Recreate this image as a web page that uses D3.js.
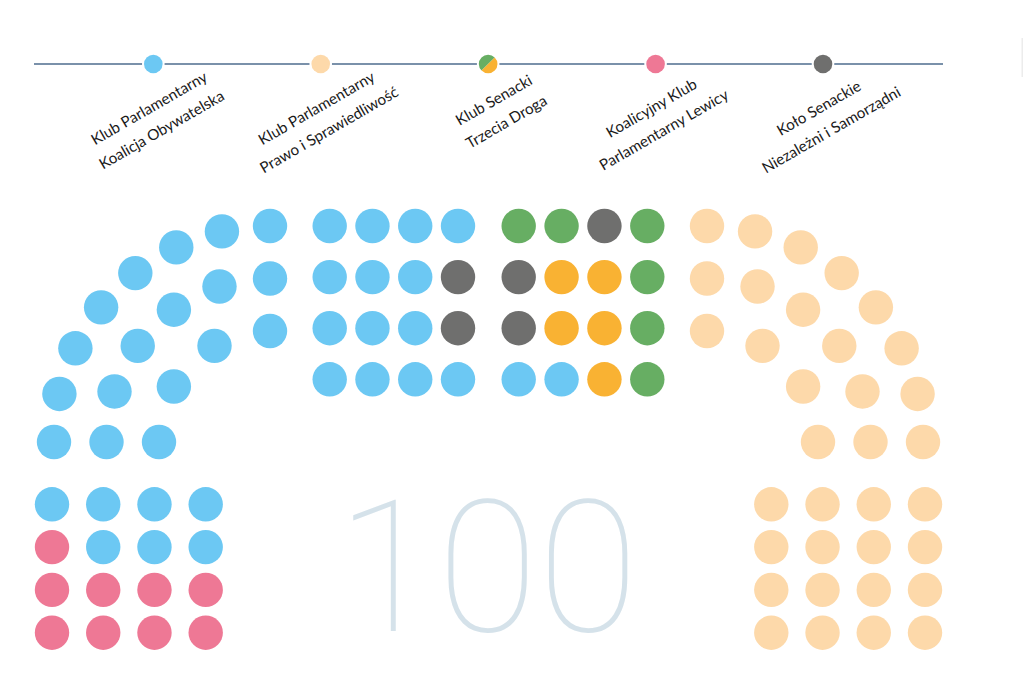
<!DOCTYPE html>
<html><head><meta charset="utf-8">
<script src="https://cdn.jsdelivr.net/npm/d3@7/dist/d3.min.js"></script>
<style>body{margin:0;background:#fff}svg{display:block}</style>
</head><body><svg id="chart" width="1024" height="685"></svg>
<script>
// ---------- DATA ----------
const partyIds = ["KO", "PiS", "TD", "L", "N"];
const partyLabels = [
  ["Klub Parlamentarny", "Koalicja Obywatelska"],
  ["Klub Parlamentarny", "Prawo i Sprawiedliwość"],
  ["Klub Senacki", "Trzecia Droga"],
  ["Koalicyjny Klub", "Parlamentarny Lewicy"],
  ["Koło Senackie", "Niezależni i Samorządni"]
];
const seatCounts = [41, 34, 11, 9, 5];
const totalSeats = "100";

// seat groups: TDg / TDo are the two components of "Trzecia Droga"
const seatColors = {KO: "#6cc8f3", PiS: "#fdd9aa", TDg: "#67ae63", TDo: "#f9b233", L: "#ee7895", N: "#6f6f6e"};

// left arc (outer ring -> inner ring, from horizontal to vertical)
const leftArcRings = [
  ["KO","KO","KO","KO","KO","KO","KO","KO"],
  ["KO","KO","KO","KO","KO","KO"],
  ["KO","KO","KO","KO"]
];
// right arc (mirror)
const rightArcRings = [
  ["PiS","PiS","PiS","PiS","PiS","PiS","PiS","PiS"],
  ["PiS","PiS","PiS","PiS","PiS","PiS"],
  ["PiS","PiS","PiS","PiS"]
];
// central block, 4 rows x 8 columns (two halves of 4)
const centerRows = [
  ["KO","KO","KO","KO","TDg","TDg","N","TDg"],
  ["KO","KO","KO","N","N","TDo","TDo","TDg"],
  ["KO","KO","KO","N","N","TDo","TDo","TDg"],
  ["KO","KO","KO","KO","KO","KO","TDo","TDg"]
];
// bottom-left block, 4 x 4
const bottomLeftRows = [
  ["KO","KO","KO","KO"],
  ["L","KO","KO","KO"],
  ["L","L","L","L"],
  ["L","L","L","L"]
];
// bottom-right block, 4 x 4
const bottomRightRows = [
  ["PiS","PiS","PiS","PiS"],
  ["PiS","PiS","PiS","PiS"],
  ["PiS","PiS","PiS","PiS"],
  ["PiS","PiS","PiS","PiS"]
];

// ---------- LAYOUT ----------
const W = 1024, H = 685;
const axisX = 488.5;
const seatR = 17.2;
const svg = d3.select("#chart");

const seats = [];

// arcs
const ringRadius = d3.scaleLinear().domain([0, 2]).range([216, 111]);
const arcCenterOffset = 218.5, arcCenterY = 442;
function addArc(rings, side) {
  const cx = axisX + side * arcCenterOffset;
  rings.forEach((ring, ri) => {
    const ang = d3.scaleLinear().domain([0, ring.length - 1]).range([0, Math.PI / 2]);
    const r = ringRadius(ri);
    ring.forEach((p, i) => {
      const a = ang(i);
      seats.push({p, x: cx + side * r * Math.cos(a), y: arcCenterY - r * Math.sin(a)});
    });
  });
}
addArc(leftArcRings, -1);
addArc(rightArcRings, 1);

// center block
const cColL = d3.scaleLinear().domain([0, 3]).range([329.7, 458]);
const cColR = d3.scaleLinear().domain([4, 7]).range([518.7, 647.3]);
const cRow = d3.scaleLinear().domain([0, 3]).range([226, 379.3]);
centerRows.forEach((row, ri) => row.forEach((p, ci) => {
  seats.push({p, x: ci < 4 ? cColL(ci) : cColR(ci), y: cRow(ri)});
}));

// bottom blocks
const bColL = d3.scaleLinear().domain([0, 3]).range([52, 205.7]);
const bColR = d3.scaleLinear().domain([0, 3]).range([2 * axisX - 205.7, 2 * axisX - 52]);
const bRow = d3.scaleLinear().domain([0, 3]).range([504.3, 632.7]);
bottomLeftRows.forEach((row, ri) => row.forEach((p, ci) => seats.push({p, x: bColL(ci), y: bRow(ri)})));
bottomRightRows.forEach((row, ri) => row.forEach((p, ci) => seats.push({p, x: bColR(ci), y: bRow(ri)})));

// big total
svg.append("text")
  .attr("x", axisX - 1).attr("y", 631)
  .attr("text-anchor", "middle")
  .attr("font-family", "Roboto, 'Open Sans', sans-serif")
  .attr("font-weight", 100)
  .attr("font-size", 184)
  .attr("fill", "#d5e2ea")
  .text(totalSeats);

svg.append("g").selectAll("circle").data(seats).join("circle")
  .attr("cx", d => d.x).attr("cy", d => d.y).attr("r", seatR)
  .attr("fill", d => seatColors[d.p]);

// ---------- LEGEND ----------
const legendY = 64;
const lx = d3.scalePoint().domain(partyIds).range([153.3, 823]);
svg.append("line").attr("x1", 34).attr("x2", 943).attr("y1", legendY).attr("y2", legendY)
  .attr("stroke", "#4e6d8e").attr("stroke-width", 1.6);

const legendColors = {KO: ["KO"], PiS: ["PiS"], TD: ["TDg", "TDo"], L: ["L"], N: ["N"]};
const markR = 9.3;
const lg = svg.append("g").selectAll("g").data(partyIds).join("g")
  .attr("transform", d => `translate(${lx(d)},${legendY})`);
lg.append("circle").attr("r", markR + 2).attr("fill", "#fff");
lg.each(function(d) {
  const g = d3.select(this);
  const cols = legendColors[d];
  if (cols.length === 1) {
    g.append("circle").attr("r", markR).attr("fill", seatColors[cols[0]]);
  } else {
    const arc = d3.arc().innerRadius(0).outerRadius(markR);
    g.append("path").attr("d", arc({startAngle: -3 * Math.PI / 4, endAngle: Math.PI / 4})).attr("fill", seatColors[cols[0]]);
    g.append("path").attr("d", arc({startAngle: Math.PI / 4, endAngle: 5 * Math.PI / 4})).attr("fill", seatColors[cols[1]]);
  }
});

const labelNudge = {KO: [0, 0], PiS: [0, 0], TD: [10, -8], L: [0, 0], N: [0, 0]};
const labelG = svg.append("g").selectAll("g").data(partyIds).join("g")
  .attr("transform", d => `translate(${lx(d) + 2 + labelNudge[d][0]},${119 + labelNudge[d][1]}) rotate(-30)`);
labelG.selectAll("text").data((d, i) => partyLabels[i]).join("text")
  .attr("x", 0).attr("y", (d, i) => i === 0 ? -12.5 : 12.5)
  .attr("dy", "0.35em")
  .attr("text-anchor", "middle")
  .attr("font-family", "Lato, 'Noto Sans', sans-serif")
  .attr("font-size", 15.2)
  .attr("fill", "#1a1a1a")
  .text(d => d);

// faint edge mark at right border
svg.append("rect").attr("x", 1021.5).attr("y", 38).attr("width", 1.5).attr("height", 39).attr("fill", "#ececec");
</script>
</body></html>
